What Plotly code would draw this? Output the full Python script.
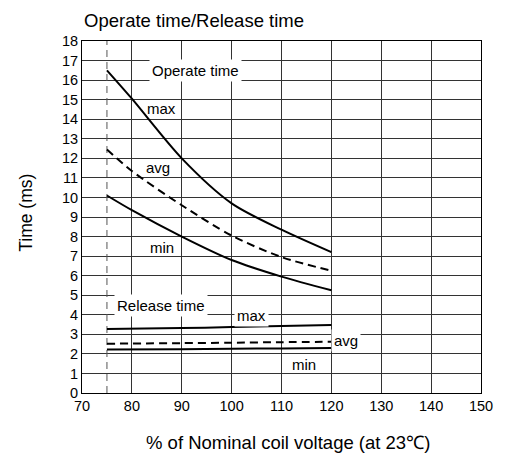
import plotly.graph_objects as go

# Operate time (ms) vs % nominal coil voltage
op_x = [75, 80, 90, 100, 110, 120]
op_max = [16.5, 15.05, 12.0, 9.7, 8.35, 7.2]
op_avg = [12.45, 11.35, 9.6, 8.05, 6.95, 6.25]
op_min = [10.1, 9.35, 8.0, 6.8, 5.95, 5.25]

# Release time (ms)
rel_x = [75, 90, 100, 110, 120]
rel_max = [3.27, 3.32, 3.37, 3.42, 3.48]
rel_avg = [2.52, 2.55, 2.57, 2.6, 2.62]
rel_min = [2.22, 2.24, 2.26, 2.28, 2.30]

# reference line at 75 %
ref_x = [75, 75]
ref_y = [0, 18]

x_ticks = [70, 80, 90, 100, 110, 120, 130, 140, 150]
y_ticks = list(range(0, 19))

FONT = "Liberation Sans, Arial, sans-serif"

fig = go.Figure()

fig.add_trace(go.Scatter(x=ref_x, y=ref_y, mode="lines",
                         line=dict(color="#555555", width=1, dash="7px,5px"),
                         hoverinfo="skip"))

solid = dict(color="black", width=2)
dashed = dict(color="black", width=2, dash="8px,5px")

for y, ln in [(op_max, solid), (op_avg, dashed), (op_min, solid)]:
    fig.add_trace(go.Scatter(x=op_x, y=y, mode="lines",
                             line=dict(**ln, shape="spline", smoothing=0.8)))
for y, ln in [(rel_max, solid), (rel_avg, dashed), (rel_min, solid)]:
    fig.add_trace(go.Scatter(x=rel_x, y=y, mode="lines",
                             line=dict(**ln, shape="spline", smoothing=0.8)))

# (text, x, y, white background)
labels = [
    ("Operate time", 92.7, 16.5, True),
    ("max", 85.9, 14.54, False),
    ("avg", 85.2, 11.55, False),
    ("min", 86.0, 7.46, False),
    ("Release time", 85.9, 4.48, True),
    ("max", 103.9, 3.97, True),
    ("avg", 123.0, 2.69, True),
    ("min", 114.45, 1.47, False),
]
annotations = []
for t, x, y, bg in labels:
    annotations.append(dict(text=t, x=x, y=y, xref="x", yref="y",
                            showarrow=False,
                            bgcolor="white" if bg else "rgba(0,0,0,0)",
                            borderpad=2,
                            font=dict(family=FONT, size=15, color="black")))

annotations += [
    dict(text="Operate time/Release time", x=-0.0012, y=1.0588,
         xref="paper", yref="paper", xanchor="left", yanchor="middle",
         showarrow=False, font=dict(family=FONT, size=18.5, color="black")),
    dict(text="Time (ms)", x=-0.1404, y=0.512, xref="paper", yref="paper",
         textangle=-90, showarrow=False, xanchor="center", yanchor="middle",
         font=dict(family=FONT, size=17.5, color="black")),
    dict(text="% of Nominal coil voltage (at 23℃)", x=0.517, y=-0.1415,
         xref="paper", yref="paper", showarrow=False,
         xanchor="center", yanchor="middle",
         font=dict(family=FONT, size=18.5, color="black")),
]

fig.update_layout(
    width=497, height=446,
    margin=dict(l=74, r=15, t=33, b=61),
    plot_bgcolor="white", paper_bgcolor="white",
    showlegend=False,
    annotations=annotations,
    font=dict(family=FONT, size=14.5, color="black"),
)
fig.update_xaxes(range=[70, 150], tickvals=x_ticks, showgrid=True,
                 gridcolor="#333333", gridwidth=1, showline=True,
                 linecolor="black", linewidth=1, mirror=True, zeroline=False,
                 ticks="", tickfont=dict(family=FONT, size=14.5, color="black"))
fig.update_yaxes(range=[0, 18], tickvals=y_ticks, showgrid=True,
                 gridcolor="#333333", gridwidth=1, showline=True,
                 linecolor="black", linewidth=1, mirror=True, zeroline=False,
                 ticks="", tickfont=dict(family=FONT, size=14.5, color="black"))

fig.write_html("out.html")
